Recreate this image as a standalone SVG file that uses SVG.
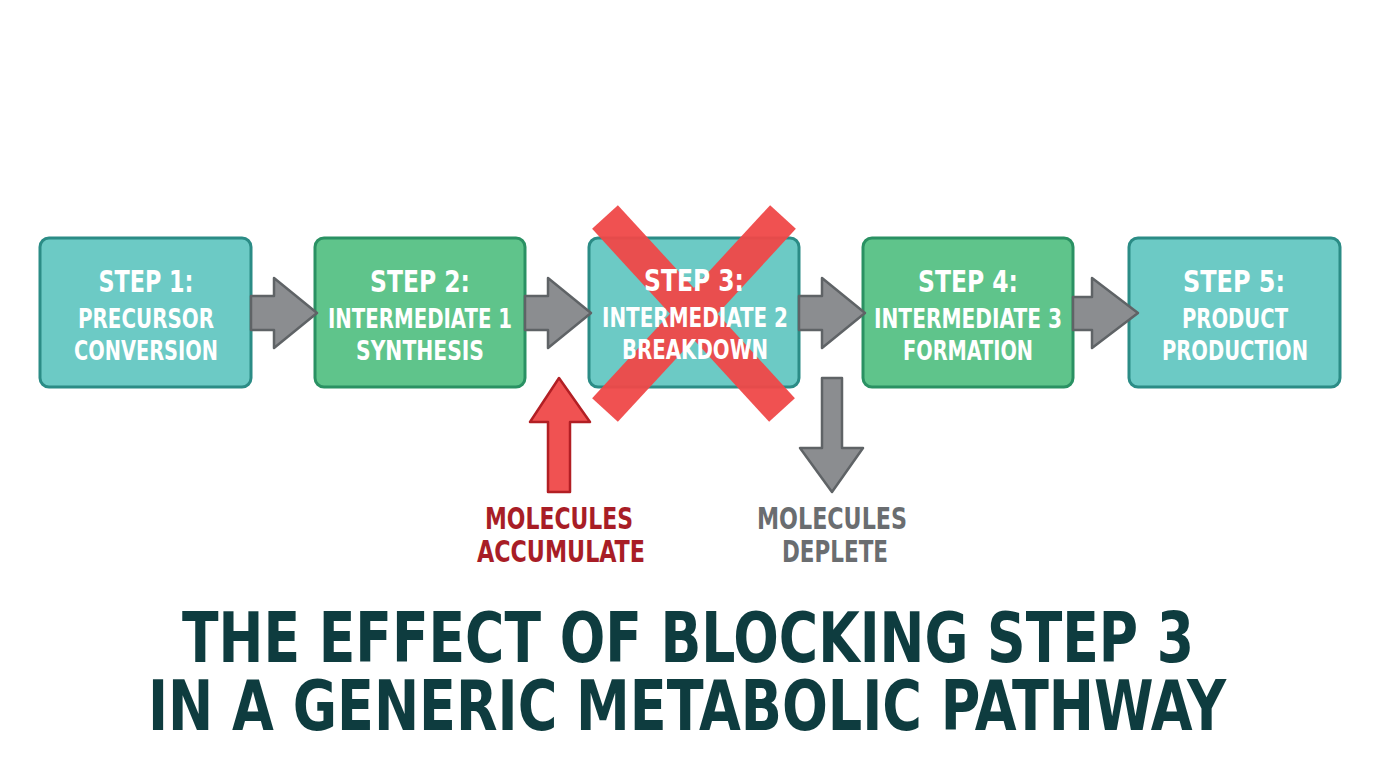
<svg xmlns="http://www.w3.org/2000/svg" width="1376" height="768" viewBox="0 0 1376 768">
<style>
.teal{fill:#6ccac5;stroke:#2b8c86;stroke-width:3}
.green{fill:#5fc48b;stroke:#2a9163;stroke-width:3}
.bt{font-family:"DejaVu Sans Condensed","Liberation Sans Narrow","Liberation Sans",sans-serif;font-weight:bold;fill:#ffffff;text-anchor:middle}
.h{font-size:30px}
.s{font-size:27px}
.conn{fill:#8b8d90;stroke:#5f6366;stroke-width:2.5;stroke-linejoin:round}
.lab{font-family:"DejaVu Sans Condensed","Liberation Sans Narrow","Liberation Sans",sans-serif;font-weight:bold;font-size:31px;text-anchor:middle}
.title{font-family:"DejaVu Sans Condensed","Liberation Sans Narrow","Liberation Sans",sans-serif;font-weight:bold;font-size:69px;fill:#0e3c3f;text-anchor:middle}
</style>
<rect width="1376" height="768" fill="#ffffff"/>
<g id="step1">
<rect class="teal" x="40" y="238" width="211" height="149" rx="9"/>
<text class="bt h" x="146" y="292" textLength="95" lengthAdjust="spacingAndGlyphs">STEP 1:</text>
<text class="bt s" x="146" y="328" textLength="136" lengthAdjust="spacingAndGlyphs">PRECURSOR</text>
<text class="bt s" x="146" y="360" textLength="144" lengthAdjust="spacingAndGlyphs">CONVERSION</text>
</g>
<g id="step2">
<rect class="green" x="315" y="238" width="210" height="149" rx="9"/>
<text class="bt h" x="420" y="292" textLength="100" lengthAdjust="spacingAndGlyphs">STEP 2:</text>
<text class="bt s" x="420" y="328" textLength="184" lengthAdjust="spacingAndGlyphs">INTERMEDIATE 1</text>
<text class="bt s" x="420" y="360" textLength="128" lengthAdjust="spacingAndGlyphs">SYNTHESIS</text>
</g>
<g id="step3">
<rect class="teal" x="589" y="238" width="210" height="149" rx="9"/>
<g id="block-x" stroke="#f04848" stroke-width="35" stroke-linecap="butt" opacity="0.95">
<line x1="605" y1="217" x2="782" y2="410"/>
<line x1="783" y1="217" x2="605" y2="410"/>
</g>
<text class="bt h" x="694" y="291" textLength="100" lengthAdjust="spacingAndGlyphs">STEP 3:</text>
<text class="bt s" x="695" y="327" textLength="186" lengthAdjust="spacingAndGlyphs">INTERMEDIATE 2</text>
<text class="bt s" x="695" y="359" textLength="146" lengthAdjust="spacingAndGlyphs">BREAKDOWN</text>
</g>
<g id="step4">
<rect class="green" x="863" y="238" width="210" height="149" rx="9"/>
<text class="bt h" x="968" y="292" textLength="100" lengthAdjust="spacingAndGlyphs">STEP 4:</text>
<text class="bt s" x="968" y="328" textLength="188" lengthAdjust="spacingAndGlyphs">INTERMEDIATE 3</text>
<text class="bt s" x="968" y="360" textLength="130" lengthAdjust="spacingAndGlyphs">FORMATION</text>
</g>
<g id="step5">
<rect class="teal" x="1129" y="238" width="211" height="149" rx="9"/>
<text class="bt h" x="1234" y="292" textLength="102" lengthAdjust="spacingAndGlyphs">STEP 5:</text>
<text class="bt s" x="1235" y="328" textLength="106" lengthAdjust="spacingAndGlyphs">PRODUCT</text>
<text class="bt s" x="1235" y="360" textLength="146" lengthAdjust="spacingAndGlyphs">PRODUCTION</text>
</g>
<g id="connectors">
<path class="conn" d="M251,296 L274,296 L274,278 L317,313 L274,348 L274,330 L251,330 Z"/>
<path class="conn" d="M525,296 L548,296 L548,278 L591,313 L548,348 L548,330 L525,330 Z"/>
<path class="conn" d="M799,296 L822,296 L822,278 L865,313 L822,348 L822,330 L799,330 Z"/>
<path class="conn" d="M1073,297 L1092,297 L1092,278 L1138,313 L1092,348 L1092,330 L1073,330 Z"/>
<path d="M559,378 L590,422 L570,422 L570,492 L548,492 L548,422 L530,422 Z" fill="#f05252" stroke="#b21f24" stroke-width="2.5" stroke-linejoin="round"/>
<path class="conn" d="M822,378 L842,378 L842,448 L863,448 L832,492 L800,448 L822,448 Z"/>
</g>
<g id="label-accumulate">
<text class="lab" x="559" y="529" fill="#a81d26" textLength="148" lengthAdjust="spacingAndGlyphs">MOLECULES</text>
<text class="lab" x="561" y="562" fill="#a81d26" textLength="168" lengthAdjust="spacingAndGlyphs">ACCUMULATE</text>
</g>
<g id="label-deplete">
<text class="lab" x="832" y="529" fill="#6a6d70" textLength="150" lengthAdjust="spacingAndGlyphs">MOLECULES</text>
<text class="lab" x="835" y="562" fill="#6a6d70" textLength="106" lengthAdjust="spacingAndGlyphs">DEPLETE</text>
</g>
<g id="title">
<text class="title" x="688" y="662" textLength="1012" lengthAdjust="spacingAndGlyphs">THE EFFECT OF BLOCKING STEP 3</text>
<text class="title" x="687" y="730" textLength="1078" lengthAdjust="spacingAndGlyphs">IN A GENERIC METABOLIC PATHWAY</text>
</g>
</svg>
